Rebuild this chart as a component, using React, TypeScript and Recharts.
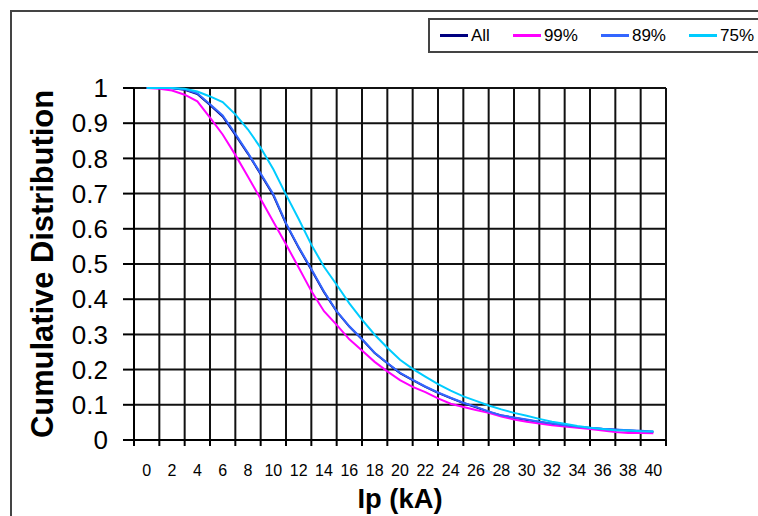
import React from 'react';
import { LineChart, Line, XAxis, YAxis, CartesianGrid, Legend, Label } from 'recharts';

const kA = [0, 1, 2, 3, 4, 5, 6, 7, 8, 9, 10, 11, 12, 13, 14, 15, 16, 17, 18, 19, 20, 21, 22, 23, 24, 25, 26, 27, 28, 29, 30, 31, 32, 33, 34, 35, 36, 37, 38, 39, 40];

const all = [1, 1, 0.999, 0.995, 0.983, 0.952, 0.919, 0.867, 0.813, 0.755, 0.695, 0.614, 0.546, 0.484, 0.42, 0.365, 0.322, 0.286, 0.247, 0.218, 0.19, 0.17, 0.151, 0.134, 0.119, 0.105, 0.093, 0.08, 0.07, 0.063, 0.057, 0.051, 0.046, 0.041, 0.037, 0.034, 0.031, 0.029, 0.027, 0.025, 0.023];
const p99 = [1, 0.998, 0.993, 0.981, 0.962, 0.916, 0.868, 0.81, 0.748, 0.685, 0.62, 0.556, 0.49, 0.423, 0.366, 0.327, 0.286, 0.254, 0.222, 0.195, 0.17, 0.151, 0.136, 0.118, 0.103, 0.094, 0.085, 0.077, 0.067, 0.058, 0.052, 0.047, 0.042, 0.038, 0.035, 0.031, 0.027, 0.023, 0.02, 0.02, 0.019];
const p89 = [1, 1, 1, 0.996, 0.985, 0.954, 0.922, 0.87, 0.815, 0.757, 0.698, 0.616, 0.548, 0.486, 0.422, 0.366, 0.323, 0.287, 0.248, 0.219, 0.191, 0.171, 0.152, 0.135, 0.12, 0.106, 0.094, 0.081, 0.07, 0.064, 0.058, 0.052, 0.047, 0.042, 0.038, 0.035, 0.032, 0.03, 0.028, 0.026, 0.024];
const p75 = [1, 1, 1, 0.998, 0.99, 0.976, 0.96, 0.925, 0.882, 0.83, 0.769, 0.697, 0.628, 0.555, 0.492, 0.441, 0.388, 0.342, 0.299, 0.262, 0.228, 0.202, 0.18, 0.159, 0.14, 0.124, 0.111, 0.098, 0.087, 0.077, 0.069, 0.06, 0.052, 0.046, 0.04, 0.035, 0.031, 0.028, 0.027, 0.025, 0.024];

const xTickLabels = [0, 2, 4, 6, 8, 10, 12, 14, 16, 18, 20, 22, 24, 26, 28, 30, 32, 34, 36, 38, 40];
const xGridTicks = [-1, 1, 3, 5, 7, 9, 11, 13, 15, 17, 19, 21, 23, 25, 27, 29, 31, 33, 35, 37, 39, 41];
const yTicks = [0, 0.1, 0.2, 0.3, 0.4, 0.5, 0.6, 0.7, 0.8, 0.9, 1];
const yTickLabels = ['0', '0.1', '0.2', '0.3', '0.4', '0.5', '0.6', '0.7', '0.8', '0.9', '1'];

const series = [
  { key: 'all', name: 'All', color: '#000080' },
  { key: 'p99', name: '99%', color: '#FF00FF' },
  { key: 'p89', name: '89%', color: '#3366FF' },
  { key: 'p75', name: '75%', color: '#00CCFF' },
];

const data = kA.map((k, i) => ({ kA: k, all: all[i], p99: p99[i], p89: p89[i], p75: p75[i] }));

const FONT = '"Liberation Sans", Arial, sans-serif';

const LegendBox = () => (
  <div style={{ display: 'flex', alignItems: 'center', height: '100%', paddingLeft: 10, fontFamily: FONT, fontSize: 17, color: '#000', whiteSpace: 'nowrap' }}>
    {series.map((s) => (
      <div key={s.key} style={{ display: 'flex', alignItems: 'center', marginRight: 23 }}>
        <span style={{ display: 'inline-block', width: 28, height: 3, background: s.color, marginRight: 3 }} />
        <span>{s.name}</span>
      </div>
    ))}
  </div>
);

export default function App() {
  return (
    <div style={{ position: 'absolute', left: 0, top: 0, width: 758, height: 516, overflow: 'hidden', background: '#fff' }}>
      <div style={{ position: 'absolute', left: 10, top: 10, width: 900, height: 700, borderLeft: '2px solid #444', borderTop: '2px solid #444' }} />
      <div style={{ position: 'absolute', left: 0, top: 0 }}>
        <LineChart width={758} height={516} data={data} margin={{ top: 88, right: 92, bottom: 0, left: 10 }}>
          <CartesianGrid stroke="#111" strokeWidth={2} />
          <XAxis
            dataKey="kA"
            type="number"
            domain={[-1, 41]}
            ticks={xGridTicks}
            interval={0}
            tickFormatter={() => ''}
            tickSize={6}
            height={8}
            axisLine={{ stroke: '#000', strokeWidth: 2 }}
            tickLine={{ stroke: '#000', strokeWidth: 2 }}
          />
          <XAxis
            xAxisId="lab"
            dataKey="kA"
            type="number"
            domain={[-1, 41]}
            ticks={xTickLabels}
            interval={0}
            tickLine={false}
            axisLine={false}
            tickSize={0}
            tickMargin={17}
            height={68}
            tick={{ fontSize: 16, fill: '#000', fontFamily: FONT }}
          >
            <Label
              content={(p: any) => {
                const vb = p.viewBox || {};
                return (
                  <text x={vb.x + vb.width / 2} y={508} textAnchor="middle" fontFamily={FONT} fontWeight="bold" fontSize={28} fill="#000" textLength={85} lengthAdjust="spacingAndGlyphs">
                    Ip (kA)
                  </text>
                );
              }}
            />
          </XAxis>
          <YAxis
            type="number"
            domain={[0, 1]}
            ticks={yTicks}
            interval={0}
            width={124}
            tickSize={11}
            tickMargin={15}
            tickFormatter={(v: number, i: number) => yTickLabels[i]}
            tick={{ fontSize: 26, fill: '#000', fontFamily: FONT }}
            axisLine={{ stroke: '#000', strokeWidth: 2 }}
            tickLine={{ stroke: '#000', strokeWidth: 2 }}
          >
            <Label
              content={(p: any) => {
                const vb = p.viewBox || {};
                const cx = 53;
                const cy = vb.y + vb.height / 2;
                return (
                  <text x={cx} y={cy} transform={`rotate(-90 ${cx} ${cy})`} textAnchor="middle" fontFamily={FONT} fontWeight="bold" fontSize={32} fill="#000" textLength={348} lengthAdjust="spacingAndGlyphs">
                    Cumulative Distribution
                  </text>
                );
              }}
            />
          </YAxis>
          <Legend
            layout="horizontal"
            verticalAlign="middle"
            align="center"
            content={<LegendBox />}
            wrapperStyle={{ position: 'absolute', left: 428, top: 18, width: 340, height: 35, border: '2px solid #444', background: '#fff', boxSizing: 'border-box' }}
          />
          {series.map((s) => (
            <Line key={s.key} type="linear" dataKey={s.key} name={s.name} stroke={s.color} strokeWidth={2} dot={false} isAnimationActive={false} />
          ))}
        </LineChart>
      </div>
    </div>
  );
}
